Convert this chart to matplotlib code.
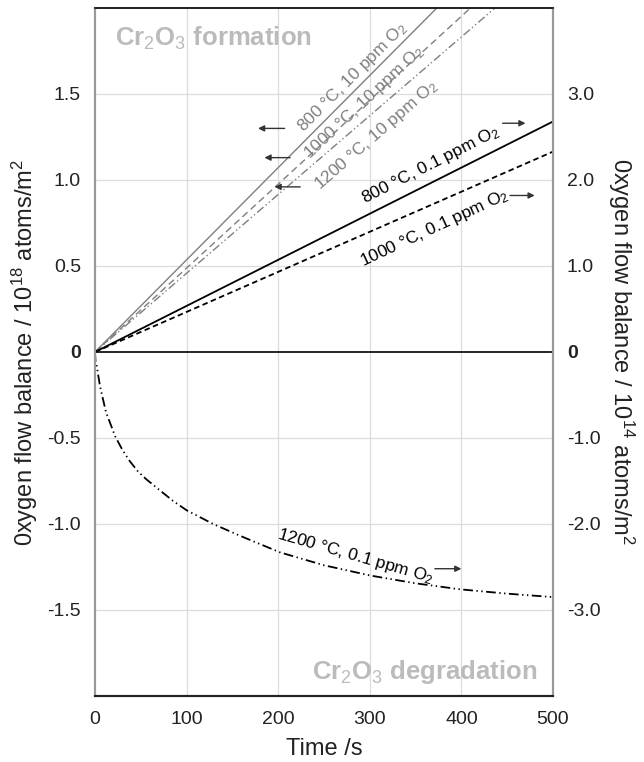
import matplotlib
matplotlib.use("Agg")
import matplotlib.pyplot as plt

plt.rcParams['font.family'] = ['Liberation Sans', 'DejaVu Sans']
plt.rcParams['mathtext.fontset'] = 'custom'
plt.rcParams['mathtext.rm'] = 'Liberation Sans'
plt.rcParams['mathtext.it'] = 'Liberation Sans:italic'
plt.rcParams['mathtext.bf'] = 'Liberation Sans:bold'
plt.rcParams['lines.scale_dashes'] = False

# time axis (s)
time_lin = [0, 500]

# 10 ppm O2 runs, left axis (10^18 atoms/m^2)
flow_800_10ppm = [0, 2.68]
flow_1000_10ppm = [0, 2.44]
flow_1200_10ppm = [0, 2.29]

# 0.1 ppm O2 runs, right axis (10^14 atoms/m^2)
flow_800_01ppm = [0, 2.68]
flow_1000_01ppm = [0, 2.33]
time_1200_01ppm = [0, 0.5, 2, 5.5, 12, 22, 30, 38, 47, 56, 71, 85, 100, 129, 159, 202, 250,
                   301, 350, 399, 450, 500]
flow_1200_01ppm = [0, -0.10, -0.17, -0.40, -0.70, -0.98, -1.14, -1.27, -1.39, -1.48, -1.61,
                   -1.73, -1.84, -2.00, -2.14, -2.33, -2.48, -2.60, -2.69, -2.76, -2.81, -2.85]

left_ticks = [-1.5, -1.0, -0.5, 0, 0.5, 1.0, 1.5]
left_ticklabels = ["-1.5", "-1.0", "-0.5", "0", "0.5", "1.0", "1.5"]
right_ticks = [-3, -2, -1, 0, 1, 2, 3]
right_ticklabels = ["-3.0", "-2.0", "-1.0", "0", "1.0", "2.0", "3.0"]
x_ticks = [0, 100, 200, 300, 400, 500]

GRAY = "#7f7f7f"
ARROW = "#333333"

fig = plt.figure(figsize=(6.44, 7.62), dpi=100)
ax = fig.add_axes([95 / 644, 66 / 762, 458 / 644, 688 / 762])
ax2 = ax.twinx()

ax.set_xlim(0, 500)
ax.set_ylim(-2.0, 2.0)
ax2.set_ylim(-4.0, 4.0)

# grid
for x in [100, 200, 300, 400]:
    ax.axvline(x, color="#dcdcdc", lw=0.9, zorder=0)
for y in [-1.5, -1.0, -0.5, 0.5, 1.0, 1.5]:
    ax.axhline(y, color="#dcdcdc", lw=0.9, zorder=0)
ax.axhline(0, color="black", lw=1.2, zorder=2)

# 10 ppm lines (left axis)
ax.plot(time_lin, flow_800_10ppm, color=GRAY, lw=1.0, ls="-")
ax.plot(time_lin, flow_1000_10ppm, color=GRAY, lw=1.0, ls=(0, (5, 3)))
ax.plot(time_lin, flow_1200_10ppm, color=GRAY, lw=1.0, ls=(0, (6, 2, 1, 2, 1, 2)))

# 0.1 ppm lines (right axis)
ax2.plot(time_lin, flow_800_01ppm, color="black", lw=1.3, ls="-")
ax2.plot(time_lin, flow_1000_01ppm, color="black", lw=1.3, ls=(0, (4, 2.5)))
ax2.plot(time_1200_01ppm, flow_1200_01ppm, color="black", lw=1.3, ls=(0, (7, 2.5, 1, 2.5, 1, 2.5)))

# ticks
ax.set_xticks(x_ticks)
ax.set_yticks(left_ticks)
ax.set_yticklabels(left_ticklabels)
ax2.set_yticks(right_ticks)
ax2.set_yticklabels(right_ticklabels)
ax.tick_params(axis="both", length=0, labelsize=14, colors="#222222")
ax.tick_params(axis="y", pad=10)
ax.tick_params(axis="x", pad=11)
ax2.tick_params(axis="y", length=0, labelsize=14, pad=10, colors="#222222")
for lab in ax.get_yticklabels():
    if lab.get_text() == "0":
        lab.set_fontweight("bold")
for lab in ax2.get_yticklabels():
    if lab.get_text() == "0":
        lab.set_fontweight("bold")

# spines
for a in (ax, ax2):
    a.spines["left"].set_color("#999999")
    a.spines["right"].set_color("#999999")
    a.spines["left"].set_linewidth(1.5)
    a.spines["right"].set_linewidth(1.5)
    a.spines["top"].set_color("#222222")
    a.spines["bottom"].set_color("#222222")
    a.spines["top"].set_linewidth(1.3)
    a.spines["bottom"].set_linewidth(1.5)

# axis labels
ax.set_xlabel("Time /s", fontsize=17, color="#222222", labelpad=7)
ax.set_ylabel(r"0xygen flow balance / 10$^{18}$ atoms/m$^2$", fontsize=17, color="#222222",
              va="center")
ax.yaxis.set_label_coords(-0.152, 0.5)
ax2.set_ylabel(r"0xygen flow balance / 10$^{14}$ atoms/m$^2$", fontsize=17, color="#222222",
               rotation=270, va="center")
ax2.yaxis.set_label_coords(1.148, 0.5)

# region titles
ax.text(0.044, 0.956, r"Cr$_2$O$_3$ formation", transform=ax.transAxes, fontsize=18.5,
        fontweight="bold", color="#bbbbbb", ha="left", va="center")
ax.text(0.967, 0.035, r"Cr$_2$O$_3$ degradation", transform=ax.transAxes, fontsize=18.5,
        fontweight="bold", color="#bbbbbb", ha="right", va="center")

# line labels
lbl = dict(fontsize=12.5, ha="center", va="center", rotation_mode="anchor")
ax.text(281, 1.60, r"800 °C, 10 ppm O$_2$", color=GRAY, rotation=45, **lbl)
ax.text(294, 1.45, r"1000 °C, 10 ppm O$_2$", color=GRAY, rotation=43, **lbl)
ax.text(307, 1.26, r"1200 °C, 10 ppm O$_2$", color=GRAY, rotation=41, **lbl)
ax.text(366, 1.09, r"800 °C, 0.1 ppm O$_2$", color="black", rotation=27, **lbl)
ax.text(370, 0.72, r"1000 °C, 0.1 ppm O$_2$", color="black", rotation=25, **lbl)
ax.text(284, -1.19, r"1200 °C, 0.1 ppm O$_2$", color="black", rotation=-16, **lbl)

# axis arrows
arr = dict(arrowstyle="-|>", color=ARROW, lw=1.0, mutation_scale=9, shrinkA=0, shrinkB=0)
ax.annotate("", xy=(178, 1.30), xytext=(207, 1.30), arrowprops=arr)
ax.annotate("", xy=(185, 1.13), xytext=(213, 1.13), arrowprops=arr)
ax.annotate("", xy=(196, 0.96), xytext=(224, 0.96), arrowprops=arr)
ax.annotate("", xy=(470, 1.33), xytext=(445, 1.33), arrowprops=arr)
ax.annotate("", xy=(480, 0.91), xytext=(453, 0.91), arrowprops=arr)
ax.annotate("", xy=(400, -1.26), xytext=(371, -1.26), arrowprops=arr)

fig.savefig("out.png", dpi=100)
